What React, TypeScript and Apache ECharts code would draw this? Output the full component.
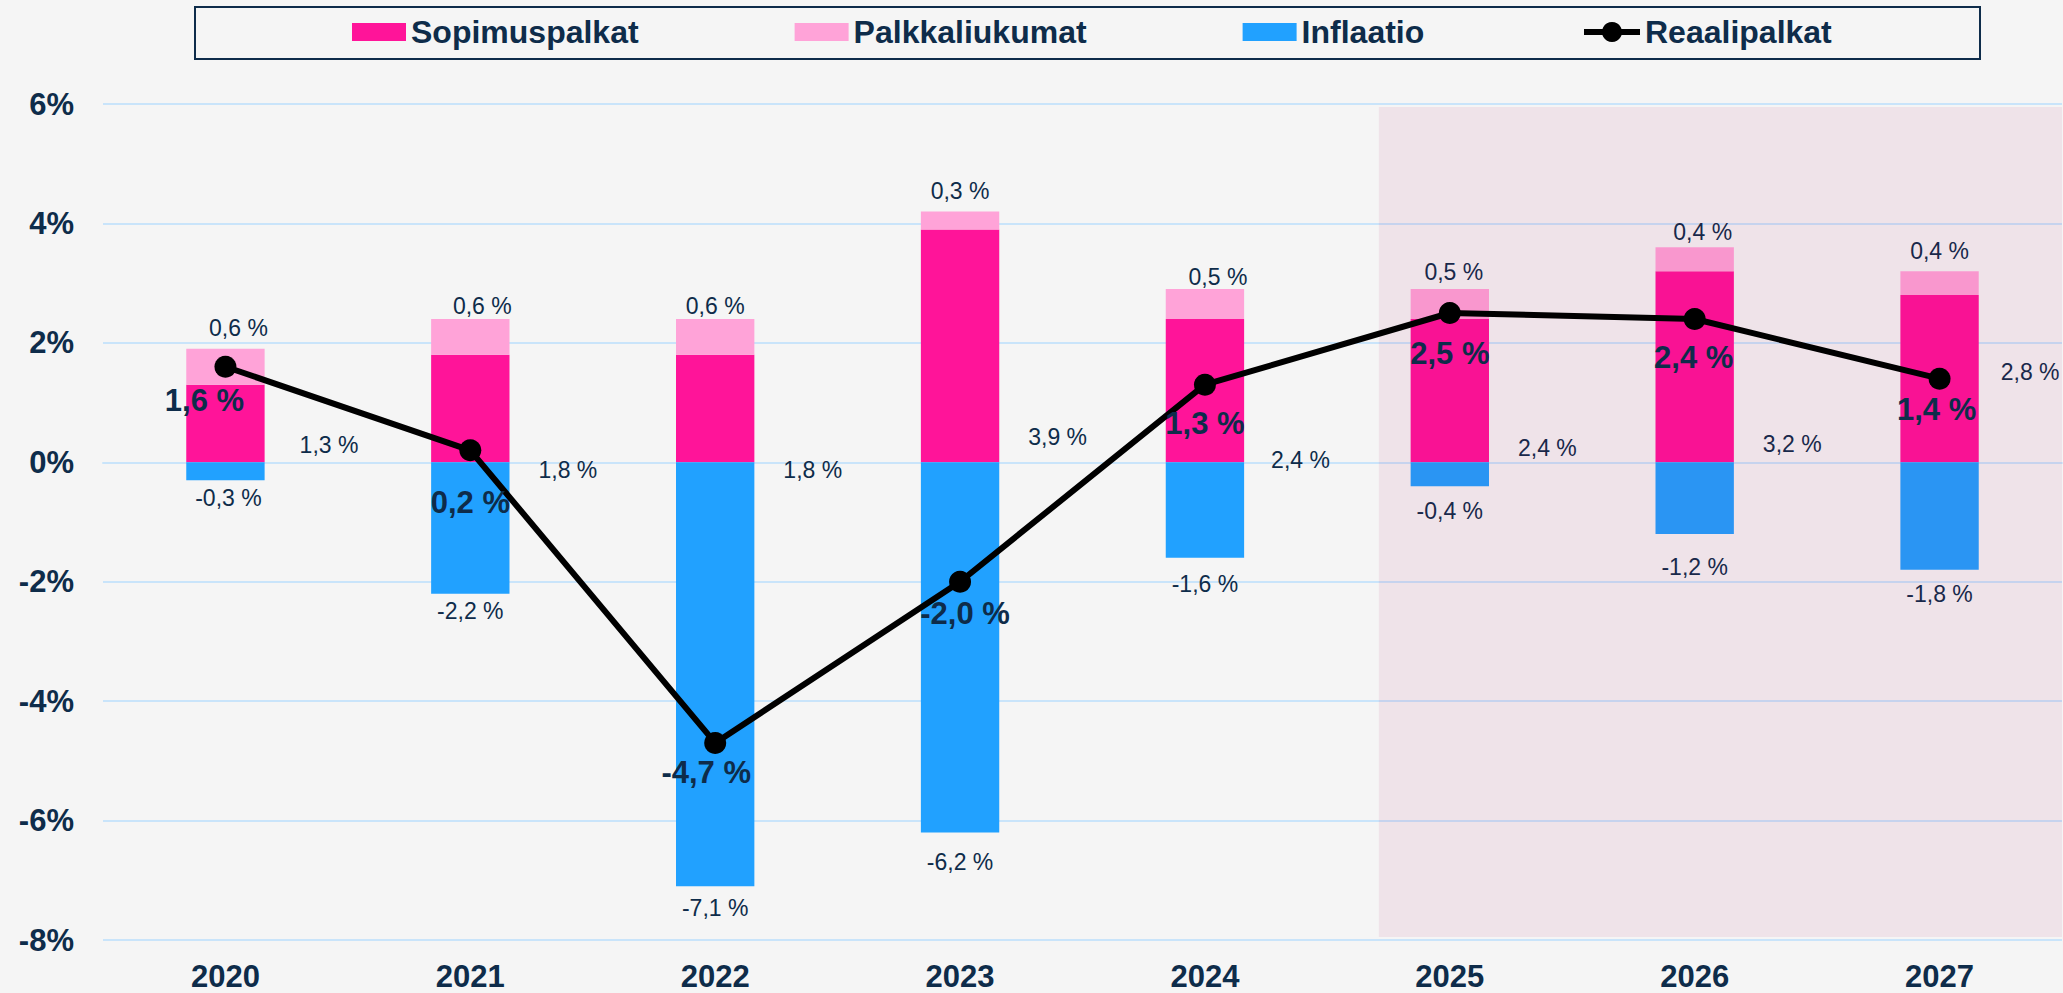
import React, { useEffect, useRef } from "react";
import * as echarts from "echarts";

const years = ["2020", "2021", "2022", "2023", "2024", "2025", "2026", "2027"];
const sopimuspalkat = [1.3, 1.8, 1.8, 3.9, 2.4, 2.4, 3.2, 2.8];
const palkkaliukumat = [0.6, 0.6, 0.6, 0.3, 0.5, 0.5, 0.4, 0.4];
const inflaatio = [-0.3, -2.2, -7.1, -6.2, -1.6, -0.4, -1.2, -1.8];
const reaalipalkat = [1.6, 0.2, -4.7, -2.0, 1.3, 2.5, 2.4, 1.4];
const forecastStartIndex = 5; // 2025 onwards is forecast
const yMin = -8;
const yMax = 6;
const yInterval = 2;

const NAVY = "#0e2c4a";
const FONT = "'Liberation Sans', Arial, Helvetica, sans-serif";

const fmt = (v: number) => v.toFixed(1).replace(".", ",") + " %";

export default function App() {
  const ref = useRef<HTMLDivElement>(null);

  useEffect(() => {
    if (!ref.current) return;
    const chart = echarts.init(ref.current, null, { renderer: "svg" });

    // label nudges (px) to follow the hand-placed labels of the original
    const sopLabelNudge = [[35, -17], [29, 8], [29, 8], [29, -25], [27, -2], [29, -14], [29, -18], [22, -90]];
    const palkLabelNudge = [[13, 0], [12, 8], [0, 8], [0, 0], [13, 8], [4, 3], [8, 5], [0, 0]];
    const inflLabelNudge = [[3, 0], [0, 0], [0, 4], [0, 12], [0, 9], [0, 7], [0, 16], [0, 7]];
    const realLabelNudge = [[-21, 1], [0, 20], [-9, -3], [5, -1], [0, 6], [0, 8], [-1, 6], [-3, -2]];

    const smallLabel = {
      fontFamily: FONT,
      fontSize: 23,
      color: NAVY,
      formatter: (p: any) => fmt(p.value),
    };

    const legendText = { fontFamily: FONT, fontSize: 32, fontWeight: "bold", color: NAVY };

    const option: any = {
      animation: false,
      backgroundColor: "#f5f5f5",
      textStyle: { fontFamily: FONT },
      grid: { left: 103, right: 1, top: 104, bottom: 53, containLabel: false },
      graphic: [
        {
          type: "rect",
          shape: { x: 195, y: 7, width: 1785, height: 52 },
          style: { fill: "transparent", stroke: NAVY, lineWidth: 2 },
          z: 10,
          silent: true,
        },
      ],
      legend: [
        {
          left: 352,
          top: 16,
          padding: 0,
          itemGap: 156,
          itemWidth: 54,
          itemHeight: 18,
          textStyle: legendText,
          data: [
            { name: "Sopimuspalkat", icon: "rect" },
            { name: "Palkkaliukumat", icon: "rect" },
            { name: "Inflaatio", icon: "rect" },
          ],
          selectedMode: false,
        },
        {
          left: 1581,
          top: 16,
          padding: 0,
          itemWidth: 56,
          itemHeight: 25,
          textStyle: legendText,
          lineStyle: { width: 6, color: "#000000" },
          data: [{ name: "Reaalipalkat" }],
          selectedMode: false,
        },
      ],
      xAxis: {
        type: "category",
        data: years,
        axisLine: { show: true, lineStyle: { color: "#c9e4fa", width: 2 } },
        axisTick: { show: false },
        axisLabel: {
          margin: 21,
          fontFamily: FONT,
          fontSize: 31,
          fontWeight: "bold",
          color: NAVY,
        },
      },
      yAxis: {
        type: "value",
        min: yMin,
        max: yMax,
        interval: yInterval,
        axisLine: { show: false },
        axisTick: { show: false },
        splitLine: { show: true, lineStyle: { color: "#c9e4fa", width: 2 } },
        axisLabel: {
          margin: 29,
          fontFamily: FONT,
          fontSize: 31,
          fontWeight: "bold",
          color: NAVY,
          formatter: (v: number) => v + "%",
        },
      },
      series: [
        {
          name: "Sopimuspalkat",
          type: "bar",
          stack: "total",
          barWidth: "32%",
          z: 2,
          itemStyle: { color: "#ff1499" },
          data: sopimuspalkat.map((v, i) => ({
            value: v,
            label: { offset: sopLabelNudge[i] },
          })),
          label: {
            show: true,
            position: ["100%", "100%"],
            align: "left",
            verticalAlign: "middle",
            ...smallLabel,
          },
        },
        {
          name: "Palkkaliukumat",
          type: "bar",
          stack: "total",
          barWidth: "32%",
          z: 2,
          itemStyle: { color: "#ffa3d8" },
          data: palkkaliukumat.map((v, i) => ({
            value: v,
            label: { offset: palkLabelNudge[i] },
          })),
          label: {
            show: true,
            position: "top",
            distance: 9,
            ...smallLabel,
          },
        },
        {
          name: "Inflaatio",
          type: "bar",
          stack: "total",
          barWidth: "32%",
          z: 2,
          itemStyle: { color: "#21a1ff" },
          data: inflaatio.map((v, i) => ({
            value: v,
            label: { offset: inflLabelNudge[i] },
          })),
          label: {
            show: true,
            position: "bottom",
            distance: 6,
            ...smallLabel,
          },
        },
        {
          name: "forecast",
          type: "custom",
          z: 3,
          silent: true,
          data: [[forecastStartIndex, 0]],
          encode: { x: 0, y: 1 },
          renderItem: (params: any, api: any) => {
            const band = api.size([1, 0])[0];
            const c = api.coord([api.value(0), 0]);
            const x0 = c[0] - 0.29 * band;
            const yTop = api.coord([api.value(0), yMax - 0.05])[1];
            const yBot = api.coord([api.value(0), yMin + 0.05])[1];
            const right = params.coordSys.x + params.coordSys.width;
            return {
              type: "rect",
              shape: { x: x0, y: yTop, width: right - x0, height: yBot - yTop },
              style: { fill: "rgba(170,0,80,0.07)" },
            };
          },
        },
        {
          name: "Reaalipalkat",
          type: "line",
          z: 5,
          data: reaalipalkat.map((v, i) => ({
            value: v,
            label: { offset: realLabelNudge[i] },
          })),
          symbol: "circle",
          symbolSize: 22,
          itemStyle: { color: "#000000" },
          lineStyle: { color: "#000000", width: 6 },
          label: {
            show: true,
            position: "bottom",
            distance: 6,
            fontFamily: FONT,
            fontSize: 31,
            fontWeight: "bold",
            color: NAVY,
            formatter: (p: any) => fmt(p.value),
          },
        },
      ],
    };

    chart.setOption(option);
    return () => chart.dispose();
  }, []);

  return (
    <div
      ref={ref}
      style={{ position: "fixed", left: 0, top: 0, width: 2063, height: 993 }}
    />
  );
}
